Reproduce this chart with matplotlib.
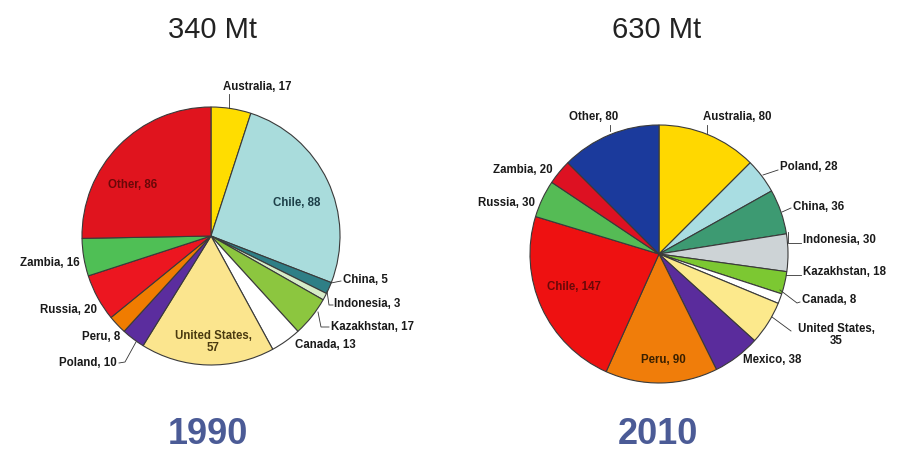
import matplotlib
matplotlib.use("Agg")
import matplotlib.pyplot as plt

plt.rcParams["font.family"] = ["Liberation Sans", "DejaVu Sans"]

# 1990 data (clockwise from top)
names_1990 = ["Australia", "Chile", "China", "Indonesia", "Kazakhstan", "Canada",
              "United States", "Poland", "Peru", "Russia", "Zambia", "Other"]
vals_1990 = [17, 88, 5, 3, 17, 13, 57, 10, 8, 20, 16, 86]
cols_1990 = ["#ffdd00", "#a9dcdc", "#2f7f86", "#d7ecc8", "#8cc63f", "#ffffff",
             "#fbe58e", "#5b2d9e", "#f07c00", "#ec1620", "#4fbf55", "#e0141e"]

# 2010 data (clockwise from top)
names_2010 = ["Australia", "Poland", "China", "Indonesia", "Kazakhstan", "Canada",
              "United States", "Mexico", "Peru", "Chile", "Russia", "Zambia", "Other"]
vals_2010 = [80, 28, 36, 30, 18, 8, 35, 38, 90, 147, 30, 20, 80]
cols_2010 = ["#ffd800", "#a9dde2", "#3d9a72", "#cdd3d6", "#7cc832", "#ffffff",
             "#fce98c", "#5a2c9c", "#f07d0a", "#ee1111", "#55bb55", "#dd1122", "#1b3a9c"]

H = 450
fig = plt.figure(figsize=(9.09, 4.5), dpi=100)
ax = fig.add_axes([0, 0, 1, 1])

wp = dict(edgecolor="#3a3a3a", linewidth=0.8)
ax.pie(vals_1990, colors=cols_1990, startangle=90, counterclock=False,
       center=(211, H - 236), radius=129, wedgeprops=wp)
ax.pie(vals_2010, colors=cols_2010, startangle=90, counterclock=False,
       center=(659, H - 254), radius=129, wedgeprops=wp)

ax.set_xlim(0, 909)
ax.set_ylim(0, H)
ax.set_aspect("equal")
ax.axis("off")


def lab(x, y, s, ha="left", color="#1a1a1a", size=8.3):
    ax.text(x, H - y, s, fontsize=size, color=color, weight="bold",
            ha=ha, va="center", linespacing=1.05)


def lead(*pts):
    xs = [p[0] for p in pts]
    ys = [H - p[1] for p in pts]
    ax.plot(xs, ys, color="#333333", lw=0.6)


def lbl(names, vals, i):
    return f"{names[i]}, {vals[i]}"


# titles
ax.text(213, H - 30, "340 Mt", fontsize=21, color="#222222", ha="center", va="center")
ax.text(657, H - 30, "630 Mt", fontsize=21, color="#222222", ha="center", va="center")
ax.text(208, H - 434, "1990", fontsize=26, weight="bold", color="#4b5b96", ha="center", va="center")
ax.text(658, H - 434, "2010", fontsize=26, weight="bold", color="#4b5b96", ha="center", va="center")

# 1990 labels
n, v = names_1990, vals_1990
lab(257, 87, lbl(n, v, 0), ha="center")
lead((229, 94), (229, 108))
lab(297, 203, lbl(n, v, 1), ha="center", color="#1d3f48")
lab(343, 280, lbl(n, v, 2))
lead((331, 283), (341, 281))
lab(334, 304, lbl(n, v, 3))
lead((327, 291), (329, 305), (333, 305))
lab(331, 327, lbl(n, v, 4))
lead((318, 312), (321, 327), (329, 327))
lab(295, 345, lbl(n, v, 5))
lab(213, 342, "United States,\n" + str(v[6]), ha="center", color="#4a3a10")
lab(117, 363, lbl(n, v, 7), ha="right")
lead((119, 363), (125, 362), (136, 342))
lab(120, 337, lbl(n, v, 8), ha="right")
lab(97, 310, lbl(n, v, 9), ha="right")
lab(80, 263, lbl(n, v, 10), ha="right")
lab(133, 185, lbl(n, v, 11), ha="center", color="#6a0808")

# 2010 labels
n, v = names_2010, vals_2010
lab(737, 117, lbl(n, v, 0), ha="center")
lead((707, 125), (707, 133))
lab(780, 167, lbl(n, v, 1))
lead((763, 175), (778, 170))
lab(793, 207, lbl(n, v, 2))
lead((782, 212), (791, 208))
lab(803, 240, lbl(n, v, 3))
lead((788, 232), (788, 243), (801, 243))
lab(803, 272, lbl(n, v, 4))
lead((786, 275), (801, 275))
lab(802, 300, lbl(n, v, 5))
lead((780, 290), (797, 303), (800, 302))
lab(836, 335, "United States,\n" + str(v[6]), ha="center")
lead((772, 317), (791, 331))
lab(743, 360, lbl(n, v, 7))
lab(663, 360, lbl(n, v, 8), ha="center", color="#3a2000")
lab(574, 287, lbl(n, v, 9), ha="center", color="#6a0808")
lab(535, 203, lbl(n, v, 10), ha="right")
lab(553, 170, lbl(n, v, 11), ha="right")
lab(594, 117, lbl(n, v, 12), ha="center")
lead((610, 125), (610, 131))

fig.savefig("out.png", dpi=100, facecolor="white")
